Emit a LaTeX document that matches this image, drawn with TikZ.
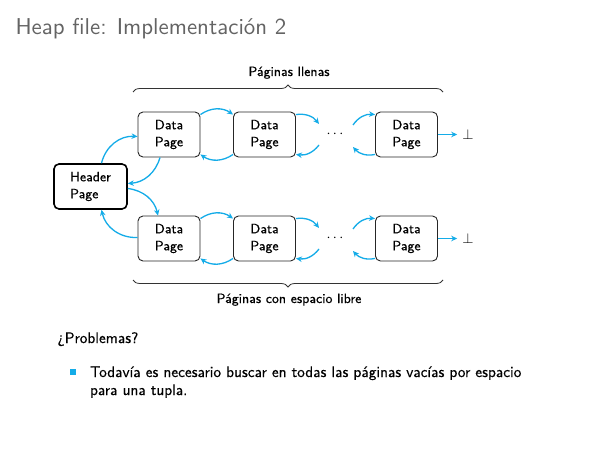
\documentclass[tikz,border=0pt]{standalone}
\usepackage{fontspec}
\setsansfont{lmsans10-regular.otf}[FakeBold=0.35]
\newfontfamily\diagfont{lmsans9-regular.otf}[FakeBold=0.35]
\newfontfamily\titlefont{lmsans10-regular.otf}
\renewcommand\familydefault{\sfdefault}
\usetikzlibrary{arrows.meta,decorations.pathreplacing}
\definecolor{linkc}{RGB}{20,172,232}
\definecolor{titlec}{RGB}{100,100,100}
\begin{document}
\begin{tikzpicture}[x=1pt,y=1pt,
  page/.style={draw=black!85, line width=0.9pt, rounded corners=5pt, minimum width=62pt, minimum height=45pt, align=left, inner sep=2pt, font=\diagfont\fontsize{13.5}{17}\selectfont},
  hdrbox/.style={page, line width=1.6pt, draw=black, minimum width=73pt},
  link/.style={draw=linkc, line width=1.3pt, -{Stealth[length=6pt,width=5.5pt]}},
  bottomc/.style={inner sep=5pt, font=\fontsize{13.5}{17}\selectfont},
  brc/.style={draw=black!80, line width=0.8pt, decorate},
  lbl/.style={anchor=base, font=\diagfont\fontsize{13.5}{17}\selectfont},
  body/.style={anchor=base west, font=\fontsize{15.3}{19}\selectfont}]
\useasboundingbox[fill=white] (0,0) rectangle (596,448);

\node[anchor=base west, text=titlec, font=\titlefont\fontsize{22.9}{27}\selectfont] (title) at (12,413) {Heap file: Implementación 2};

% nodes
\node[hdrbox] (hdr) at (90.5,261.5) {Header\\Page};
\node[page] (t1) at (169,313.5) {Data\\Page};
\node[page] (t2) at (264.5,313.5) {Data\\Page};
\node[page] (t3) at (406.5,313.5) {Data\\Page};
\node[page] (b1) at (169,209.5) {Data\\Page};
\node[page] (b2) at (264.5,209.5) {Data\\Page};
\node[page] (b3) at (406.5,209.5) {Data\\Page};
\node[bottomc] (tdots) at (335,313.5) {$\cdots$};
\node[bottomc] (bdots) at (335,209.5) {$\cdots$};
\node[bottomc] (tbot) at (468,313.5) {$\bot$};
\node[bottomc] (bbot) at (468,209.5) {$\bot$};

% free ends near the dots
\coordinate (ta) at (319,324);
\coordinate (tb) at (319,303);
\coordinate (tc) at (353,323);
\coordinate (td) at (353,301);
\coordinate (ba) at (319,220);
\coordinate (bb) at (319,199);
\coordinate (bc) at (353,219);
\coordinate (bd) at (353,197);

% top chain
\draw[link] ([yshift=-3pt]t1.north east) to[bend left=35] ([yshift=-3pt]t2.north west);
\draw[link] ([yshift=3pt]t2.south west) to[bend left=35] ([yshift=3pt]t1.south east);
\draw[link] ([yshift=-3pt]t2.north east) to[bend left=30] (ta);
\draw[link] (tb) to[bend left=30] ([yshift=3pt]t2.south east);
\draw[link] (tc) to[bend left=30] ([yshift=-3pt]t3.north west);
\draw[link] ([yshift=3pt]t3.south west) to[bend left=30] (td);
\draw[link] (t3) -- (tbot);

% bottom chain
\draw[link] ([yshift=-3pt]b1.north east) to[bend left=35] ([yshift=-3pt]b2.north west);
\draw[link] ([yshift=3pt]b2.south west) to[bend left=35] ([yshift=3pt]b1.south east);
\draw[link] ([yshift=-3pt]b2.north east) to[bend left=30] (ba);
\draw[link] (bb) to[bend left=30] ([yshift=3pt]b2.south east);
\draw[link] (bc) to[bend left=30] ([yshift=-3pt]b3.north west);
\draw[link] ([yshift=3pt]b3.south west) to[bend left=30] (bd);
\draw[link] (b3) -- (bbot);

% header links
\draw[link] ([xshift=11pt]hdr.north) to[bend left=40] ([yshift=-2pt]t1.west);
\draw[link] ([xshift=-9pt]t1.south) to[bend left=35] ([yshift=3pt]hdr.east);
\draw[link] ([yshift=-2pt]hdr.east) to[bend left=35] ([xshift=-11pt]b1.north);
\draw[link] ([yshift=1pt]b1.west) to[bend left=40] ([xshift=11pt]hdr.south);

% braces
\coordinate (tbl) at (133,356);
\coordinate (tbr) at (443,356);
\coordinate (bbl) at (133,168);
\coordinate (bbr) at (443,168);
\draw[brc, decoration={brace, amplitude=7pt}] (tbl) -- (tbr);
\draw[brc, decoration={brace, amplitude=7pt, mirror}] (bbl) -- (bbr);
\node[lbl] (tlbl) at (289,372) {Páginas llenas};
\node[lbl] (blbl) at (289,145) {Páginas con espacio libre};

% body text
\node[body] (prob) at (54,105) {¿Problemas?};
\fill[linkc] (70,73) rectangle (76,79);
\node[body] (l1) at (86.5,71) {Todavía es necesario buscar en todas las páginas vacías por espacio};
\node[body] (l2) at (86.5,53) {para una tupla.};
\end{tikzpicture}
\end{document}
